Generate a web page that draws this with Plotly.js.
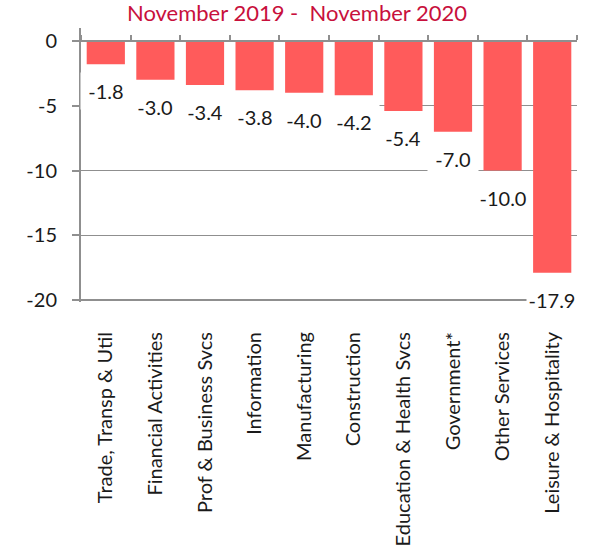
<!DOCTYPE html>
<html>
<head>
<meta charset="utf-8">
<script src="https://cdn.plot.ly/plotly-3.0.1.min.js"></script>
<style>html,body{margin:0;padding:0;background:#fff}#chart{width:594px;height:548px}</style>
</head>
<body>
<div id="chart"></div>
<script>
var categories = ["Trade, Transp & Util", "Financial Activities", "Prof & Business Svcs", "Information", "Manufacturing", "Construction", "Education & Health Svcs", "Government*", "Other Services", "Leisure & Hospitality"];
var values = [-1.8, -3.0, -3.4, -3.8, -4.0, -4.2, -5.4, -7.0, -10.0, -17.9];
var yTicks = [0, -5, -10, -15, -20];
var titleText = "November 2019 -  November 2020";

var FONT = "Lato, sans-serif";
var GRID = "#8f8f8f";
var Y_MIN = -20.15, Y_MAX = 1;

var traces = [
  {type: "bar", x: categories, y: values, marker: {color: "#ff5b5b"}, hoverinfo: "skip", xaxis: "x", yaxis: "y"},
  {type: "bar", x: categories, y: values, marker: {color: "rgba(0,0,0,0)"}, hoverinfo: "skip", xaxis: "x2", yaxis: "y", showlegend: false}
];

var annotations = categories.map(function (c, i) {
  return {
    xref: "x", yref: "y", x: c, y: values[i], yshift: -27,
    text: values[i].toFixed(1), showarrow: false,
    bgcolor: "#ffffff", width: 48, height: 34, borderpad: 1,
    font: {family: FONT, size: 20, color: "#1a1a1a"}
  };
});

var layout = {
  width: 594, height: 548,
  margin: {l: 81, r: 17, t: 28, b: 246},
  paper_bgcolor: "#ffffff", plot_bgcolor: "#ffffff",
  showlegend: false,
  bargap: 0.23,
  annotations: annotations,
  title: {text: titleText, font: {family: "Lato, 'Open Sans', sans-serif", size: 22, color: "#c8103c"},
          xref: "container", x: 0.5, xanchor: "center", yref: "container", y: 0.975, yanchor: "middle"},
  xaxis: {type: "category", categoryarray: categories, range: [-0.5, 9.5],
          showline: false, showgrid: false, zeroline: false,
          ticks: "outside", ticklen: 21, tickcolor: "rgba(0,0,0,0)", tickangle: -90,
          tickfont: {family: FONT, size: 20, color: "#1a1a1a"}},
  xaxis2: {type: "category", categoryarray: categories, range: [-0.5, 9.5], overlaying: "x",
           anchor: "free", position: -Y_MIN / (Y_MAX - Y_MIN), side: "top",
           showline: true, linecolor: GRID, linewidth: 2, showgrid: false, zeroline: false,
           ticks: "outside", tickson: "boundaries", ticklen: 5, tickcolor: GRID, tickwidth: 2,
           showticklabels: false},
  yaxis: {range: [Y_MIN, Y_MAX], tickvals: yTicks, ticktext: yTicks.map(String),
          showline: true, linecolor: GRID, linewidth: 2, zeroline: false,
          showgrid: true, gridcolor: GRID, gridwidth: 1.5,
          ticks: "outside", ticklen: 7, tickcolor: GRID, tickwidth: 2, ticklabelstandoff: 11,
          tickfont: {family: FONT, size: 20, color: "#1a1a1a"}}
};

Plotly.newPlot("chart", traces, layout, {staticPlot: true});
</script>
</body>
</html>
